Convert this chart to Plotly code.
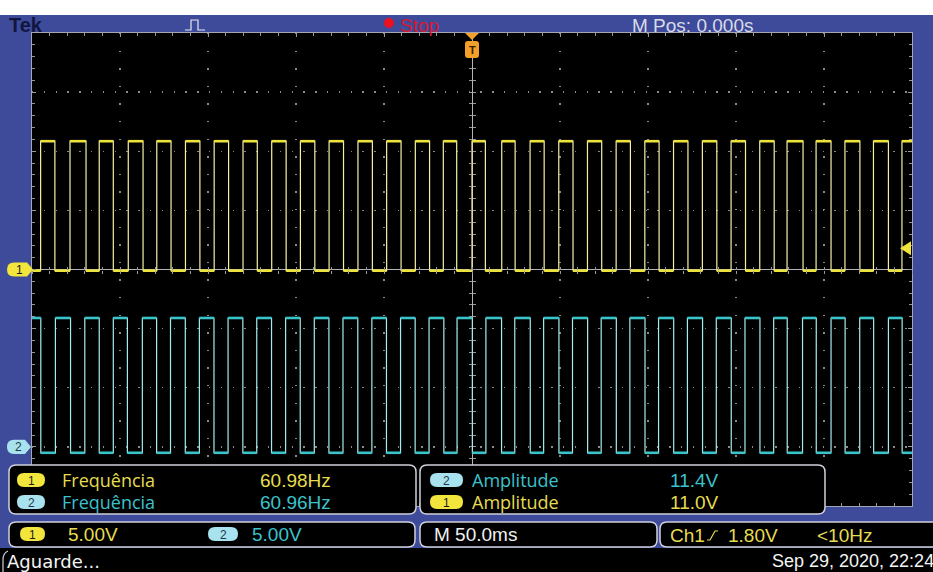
import plotly.graph_objects as go

# ---------------- data (read from the screen) ----------------
# time axis: 50 ms/div, 10 divisions, trigger at centre (t = 0)
CH1_RISE_MS = [-245.1, -228.4, -211.8, -195.3, -179.1, -162.8, -146.5, -130.1, -113.8, -97.5,
               -81.2, -64.8, -48.5, -32.2, -16.3, 0.0, 16.9, 33.0, 49.3, 65.6,
               81.9, 98.2, 114.5, 130.9, 147.2, 163.5, 179.0, 195.5, 211.9, 228.1, 244.3]
CH1_FALL_MS = [-237.0, -219.3, -203.8, -186.9, -171.0, -154.6, -138.3, -122.0, -105.6, -89.3,
               -73.0, -56.6, -40.3, -24.1, -8.7, 7.6, 24.5, 41.0, 57.4, 73.7,
               90.0, 106.3, 122.7, 139.1, 155.4, 171.7, 188.1, 204.0, 220.4, 236.6]
CH2_FALL_MS = [-245.0, -228.1, -211.8, -195.8, -179.2, -162.9, -146.6, -130.2, -113.9, -97.6,
               -81.3, -64.9, -48.6, -32.3, -16.0, 0.2, 16.8, 33.1, 49.4, 65.7,
               82.0, 98.3, 114.6, 131.0, 147.3, 163.6, 179.1, 195.6, 212.0, 228.2, 244.4]
CH2_RISE_MS = [-236.7, -220.0, -203.8, -187.3, -171.3, -154.9, -138.6, -122.3, -105.9, -89.6,
               -73.3, -56.9, -40.6, -24.4, -8.5, 7.9, 24.3, 40.7, 57.1, 73.4,
               89.7, 106.0, 122.4, 138.8, 155.1, 171.4, 187.8, 204.0, 220.3, 236.6]

CH1_LEVELS_V = [-0.1, 10.85]   # low, high
CH2_LEVELS_V = [-0.5, 10.9]
VOLTS_PER_DIV = [5.0, 5.0]     # ch1, ch2
CH_POSITION_DIV = [0.0, -3.0]  # ch1, ch2 ground marker position
TIME_RANGE_MS = [-250, 250]
TRIG_LEVEL_V = 1.80

MEAS_LABELS = ["Frequência", "Frequência", "Amplitude", "Amplitude"]
MEAS_VALUES = ["60.98Hz", "60.96Hz", "11.4V", "11.0V"]
MEAS_CH = [1, 2, 2, 1]
SCALE_TEXT = ["5.00V", "5.00V"]
TIMEBASE_TEXT = "M 50.0ms"
TRIG_TEXT = ["Ch1", "1.80V", "<10Hz"]
STATUS_TEXT = ["Aguarde...", "Sep 29, 2020, 22:24"]
TOP_TEXT = ["Tek", "Stop", "M Pos: 0.000s"]

# ---------------- styling ----------------
W, H = 933, 572
BLUE = "#3e4a9a"
YEL = "#ebe23c"
YEL_EDGE = "#f4f0a8"
CYA = "#38c4c8"
CYA_EDGE = "#a6ecec"
YEL_TXT = "#e6dc50"
CYA_TXT = "#3cc2cc"
BORDER = "#cfd0da"
GRID = "#8a8a8a"
F_NUM = "Liberation Sans, Arial, sans-serif"
F_WORD = "Open Sans, sans-serif"
F_STAT = "DejaVu Sans, sans-serif"

GX0, GX1, GY0, GY1 = 32, 912, 33, 506   # graticule in pixels


def px(x):
    return x / W


def py(y):
    return 1 - y / H


def P(x, y):
    return f"{px(x):.5f},{py(y):.5f}"


def rrect(x0, y0, x1, y1, r):
    return (f"M{P(x0 + r, y0)} L{P(x1 - r, y0)} Q{P(x1, y0)} {P(x1, y0 + r)} "
            f"L{P(x1, y1 - r)} Q{P(x1, y1)} {P(x1 - r, y1)} L{P(x0 + r, y1)} "
            f"Q{P(x0, y1)} {P(x0, y1 - r)} L{P(x0, y0 + r)} Q{P(x0, y0)} {P(x0 + r, y0)} Z")


def arrow_pill(x0, y0, x1, y1):
    r = (y1 - y0) / 2
    ym = (y0 + y1) / 2
    return (f"M{P(x0 + r, y0)} L{P(x1 - 6, y0)} L{P(x1, ym)} L{P(x1 - 6, y1)} "
            f"L{P(x0 + r, y1)} Q{P(x0, y1)} {P(x0, ym)} Q{P(x0, y0)} {P(x0 + r, y0)} Z")


def to_div(v, ch):
    return v / VOLTS_PER_DIV[ch] + CH_POSITION_DIV[ch]


def step_trace(first_edges, second_edges, start_level, levels, ch):
    """Build step waveform and flat segments from edge lists."""
    edges = []
    for i in range(len(first_edges)):
        edges.append(first_edges[i])
        if i < len(second_edges):
            edges.append(second_edges[i])
    lv = start_level
    xs = [TIME_RANGE_MS[0]]
    ys = [to_div(levels[lv], ch)]
    fx, fy = [], []
    prev = TIME_RANGE_MS[0]
    for e in edges:
        fx += [prev, e, None]
        fy += [to_div(levels[lv], ch)] * 2 + [None]
        lv = 1 - lv
        xs += [e]
        ys += [to_div(levels[lv], ch)]
        prev = e
    fx += [prev, TIME_RANGE_MS[1]]
    fy += [to_div(levels[lv], ch)] * 2
    xs += [TIME_RANGE_MS[1]]
    ys += [to_div(levels[lv], ch)]
    return xs, ys, fx, fy


fig = go.Figure()

y1x, y1y, y1fx, y1fy = step_trace(CH1_RISE_MS, CH1_FALL_MS, 0, CH1_LEVELS_V, 0)
c2x, c2y, c2fx, c2fy = step_trace(CH2_FALL_MS, CH2_RISE_MS, 1, CH2_LEVELS_V, 1)

for xs, ys, fx, fy, c, ce in [(y1x, y1y, y1fx, y1fy, YEL, YEL_EDGE),
                              (c2x, c2y, c2fx, c2fy, CYA, CYA_EDGE)]:
    fig.add_trace(go.Scatter(x=xs, y=ys, mode="lines", line=dict(color=ce, width=1.2, shape="hv"),
                             showlegend=False, hoverinfo="skip"))
    fig.add_trace(go.Scatter(x=fx, y=fy, mode="lines", line=dict(color=c, width=2.6),
                             showlegend=False, hoverinfo="skip", connectgaps=False))

# dummy traces for centre-cross tick axes
for k in ("2", "3"):
    fig.add_trace(go.Scatter(x=[None], y=[None], xaxis="x" + k, yaxis="y" + k,
                             showlegend=False, hoverinfo="skip"))

xdom = [px(GX0), px(GX1)]
ydom = [py(GY1), py(GY0)]

axis_common = dict(showticklabels=False, showline=True, mirror="ticks", linecolor="#a4a6b4",
                   linewidth=1, ticks="inside", ticklen=4, tickcolor="#9a9a9a",
                   zeroline=True, zerolinecolor="#b4b4b4", zerolinewidth=1,
                   showgrid=True, gridcolor=GRID, gridwidth=1.3, fixedrange=True)

fig.update_layout(
    width=W, height=H, margin=dict(l=0, r=0, t=0, b=0),
    paper_bgcolor=BLUE, plot_bgcolor="black", showlegend=False,
    xaxis=dict(domain=xdom, range=TIME_RANGE_MS, dtick=50, griddash="1.4px,16.2px",
               minor=dict(dtick=10, ticks="inside", ticklen=3, tickcolor="#9a9a9a", showgrid=False),
               **axis_common),
    yaxis=dict(domain=ydom, range=[-4, 4], dtick=1, griddash="1.4px,10.4px",
               minor=dict(dtick=0.2, ticks="inside", ticklen=3, tickcolor="#9a9a9a", showgrid=False),
               **axis_common),
)
cross = dict(showticklabels=False, showline=False, showgrid=False, zeroline=False,
             ticklen=3, tickcolor="#9a9a9a", fixedrange=True)
fig.update_layout(
    xaxis2=dict(overlaying="x", anchor="free", position=py((GY0 + GY1) / 2), range=TIME_RANGE_MS,
                dtick=10, ticks="outside", domain=xdom, **cross),
    xaxis3=dict(overlaying="x", anchor="free", position=py((GY0 + GY1) / 2), range=TIME_RANGE_MS,
                dtick=10, ticks="inside", domain=xdom, **cross),
    yaxis2=dict(overlaying="y", anchor="free", position=px((GX0 + GX1) / 2), range=[-4, 4],
                dtick=0.2, ticks="outside", domain=ydom, **cross),
    yaxis3=dict(overlaying="y", anchor="free", position=px((GX0 + GX1) / 2), range=[-4, 4],
                dtick=0.2, ticks="inside", domain=ydom, **cross),
)

shapes = []
ann = []


def rect(x0, y0, x1, y1, fill):
    shapes.append(dict(type="rect", xref="paper", yref="paper", x0=px(x0), x1=px(x1),
                       y0=py(y1), y1=py(y0), fillcolor=fill, line=dict(width=0), layer="above"))


def path(d, fill=None, line=None, lw=1.5):
    s = dict(type="path", xref="paper", yref="paper", path=d, layer="above",
             line=dict(color=line or "rgba(0,0,0,0)", width=lw if line else 0))
    if fill:
        s["fillcolor"] = fill
    shapes.append(s)


def text(x, y, s, color, size, family=F_NUM, anchor="left", bold=False):
    ann.append(dict(xref="paper", yref="paper", x=px(x), y=py(y), text=f"<b>{s}</b>" if bold else s,
                    showarrow=False, xanchor=anchor, yanchor="middle",
                    font=dict(color=color, size=size, family=family)))


def badge(x0, y0, x1, y1, ch):
    fill = "#f2e53c" if ch == 1 else "#a8e2ee"
    path(rrect(x0, y0, x1, y1, (y1 - y0) / 2), fill=fill)
    text((x0 + x1) / 2, (y0 + y1) / 2 + 0.5, str(ch), "#1a1a1a" if ch == 1 else "#22384a", 12,
         anchor="center")


# top white strip and status bar
rect(0, 0, W, 15, "white")
rect(0, 548, W, H, "black")

# top bar content
text(7, 25, TOP_TEXT[0], "#10163e", 20, bold=True)
path(f"M{P(185, 30)} L{P(191, 30)} L{P(191, 20)} L{P(198, 20)} L{P(198, 30)} L{P(205, 30)}",
     line="#e8e8f0", lw=1.2)
shapes.append(dict(type="circle", xref="paper", yref="paper", x0=px(384), x1=px(394), y0=py(28),
                   y1=py(18), fillcolor="#ec1020", line=dict(width=0), layer="above"))
text(398, 25.5, TOP_TEXT[1], "#d41a30", 19)
text(630, 25, TOP_TEXT[2], "#d8dae8", 19)

# trigger position marker (orange)
path(f"M{P(465, 33)} L{P(479, 33)} L{P(472, 40)} Z", fill="#f2a02a")
path(rrect(465, 41, 479, 58, 3), fill="#f2a02a")
text(472, 50, "T", "#3a2000", 11, anchor="center", bold=True)

# channel ground markers (left)
m1y = GY0 + (4 - CH_POSITION_DIV[0]) * (GY1 - GY0) / 8
m2y = GY0 + (4 - CH_POSITION_DIV[1]) * (GY1 - GY0) / 8
path(arrow_pill(7, m1y - 7, 33, m1y + 7), fill="#f2e53c")
text(19, m1y + 0.5, "1", "#1a1a1a", 12, anchor="center")
path(arrow_pill(7, m2y - 7, 31, m2y + 7), fill="#a8e2ee")
text(18, m2y + 0.5, "2", "#22384a", 12, anchor="center")

# trigger level marker (right)
tly = GY0 + (4 - (TRIG_LEVEL_V / VOLTS_PER_DIV[0] + CH_POSITION_DIV[0])) * (GY1 - GY0) / 8
path(f"M{P(900, tly)} L{P(911, tly - 7)} L{P(911, tly + 7)} Z", fill="#f0e43a")

# measurement panels
path(rrect(9, 465, 416, 514, 7), fill="black", line=BORDER)
path(rrect(420, 465, 825, 514, 7), fill="black", line=BORDER)
rows = [480, 502, 480, 502]
for i in range(4):
    ch = MEAS_CH[i]
    col = YEL_TXT if ch == 1 else CYA_TXT
    if i < 2:
        badge(17, rows[i] - 7, 45, rows[i] + 7, ch)
        text(60, rows[i], MEAS_LABELS[i], col, 18, family=F_WORD)
        text(258, rows[i], MEAS_VALUES[i], col, 19)
    else:
        badge(430, rows[i] - 7, 463, rows[i] + 7, ch)
        text(470, rows[i], MEAS_LABELS[i], col, 18, family=F_WORD)
        text(668, rows[i], MEAS_VALUES[i], col, 19)

# scale / timebase / trigger panels
path(rrect(9, 522, 415, 547, 7), fill="black", line=BORDER)
path(rrect(420, 522, 657, 547, 7), fill="black", line=BORDER)
path(rrect(660, 522, 950, 547, 7), fill="black", line=BORDER)
badge(20, 527, 45, 541, 1)
text(66, 534, SCALE_TEXT[0], YEL_TXT, 19)
badge(208, 527, 238, 541, 2)
text(250, 534, SCALE_TEXT[1], CYA_TXT, 19)
text(432, 534, TIMEBASE_TEXT, "#f0f0f0", 19)
text(668, 535, TRIG_TEXT[0], YEL_TXT, 19)
path(f"M{P(707, 540)} L{P(710, 540)} L{P(715, 531)} L{P(718, 531)}", line=YEL_TXT, lw=1.2)
text(726, 535, TRIG_TEXT[1], YEL_TXT, 19)
text(815, 535, TRIG_TEXT[2], YEL_TXT, 19)

# status line
path(f"M{P(8, 551)} Q{P(3, 553)} {P(3, 560)} L{P(3, 572)}", line=BORDER, lw=1.2)
text(5, 561, STATUS_TEXT[0], "#f4f4f4", 18, family=F_STAT)
text(770, 561, STATUS_TEXT[1], "#f4f4f4", 18)

fig.update_layout(shapes=shapes, annotations=ann)
fig.write_html("out.html", config={"displayModeBar": False, "staticPlot": True},
               post_script="document.body.style.margin='0px';document.body.style.overflow='hidden';")
